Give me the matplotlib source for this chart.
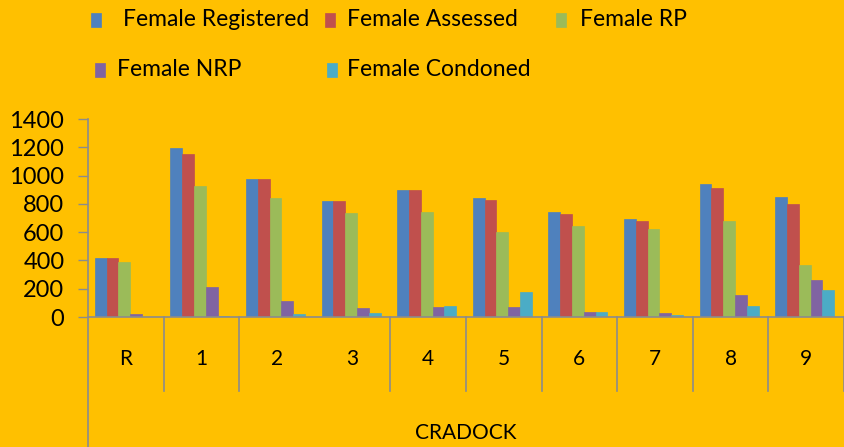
import matplotlib
matplotlib.use("Agg")
import matplotlib.pyplot as plt
from matplotlib.patches import Rectangle
from matplotlib.lines import Line2D
import numpy as np

categories = ["R", "1", "2", "3", "4", "5", "6", "7", "8", "9"]
group_label = "CRADOCK"
series_names = ["Female Registered", "Female Assessed", "Female RP", "Female NRP", "Female Condoned"]
female_registered = [415, 1195, 975, 820, 900, 840, 740, 690, 940, 845]
female_assessed = [415, 1155, 975, 820, 900, 830, 730, 680, 910, 800]
female_rp = [390, 925, 840, 735, 745, 600, 645, 625, 680, 365]
female_nrp = [20, 215, 115, 65, 70, 70, 35, 25, 155, 265]
female_condoned = [2, 10, 20, 25, 80, 175, 35, 15, 80, 190]
yticks = [0, 200, 400, 600, 800, 1000, 1200, 1400]

series = [female_registered, female_assessed, female_rp, female_nrp, female_condoned]
colors = ["#4F81BD", "#C0504D", "#9BBB59", "#8064A2", "#4BACC6"]
bg = "#FFC000"
axis_col = "#8C8C8C"
font = ["Lato", "DejaVu Sans"]

W, H = 844, 447
fig = plt.figure(figsize=(W / 100, H / 100), dpi=100, facecolor=bg)
ax = fig.add_axes([88 / W, (H - 317) / H, (844 - 88) / W, 198 / H])
ax.set_facecolor(bg)

x = np.arange(len(categories))
bw = 0.156
for i, (vals, c) in enumerate(zip(series, colors)):
    ax.bar(x + (i - 2) * bw - 0.02, vals, width=bw, color=c, edgecolor=c, linewidth=0.5, zorder=2)

ax.set_xlim(-0.5, len(categories) - 0.5)
ax.set_ylim(0, 1400)
ax.set_yticks(yticks)
ax.set_yticklabels([str(t) for t in yticks], fontfamily=font, fontsize=17)
ax.tick_params(axis="y", direction="out", length=7, width=1, color=axis_col, pad=10)
ax.set_xticks([])
for s in ["top", "right", "left"]:
    ax.spines[s].set_visible(False)
ax.spines["bottom"].set_color(axis_col)
ax.spines["bottom"].set_linewidth(1.2)

# y axis line extending down through the category area
ax.add_line(Line2D([0, 0], [1, -130 / 198], transform=ax.transAxes, color=axis_col, lw=1.2, clip_on=False))
# category separator lines
trans = ax.get_xaxis_transform()
for b in np.arange(len(categories) - 1) + 0.5:
    if abs(b - 2.5) < 1e-6:
        continue
    ax.add_line(Line2D([b, b], [0, -74 / 198], transform=trans, color=axis_col, lw=1.2, clip_on=False))
ax.add_line(Line2D([len(categories) - 0.5] * 2, [0, -74 / 198], transform=trans, color=axis_col, lw=1.2, clip_on=False))

for xi, lab in zip(x, categories):
    ax.text(xi, -42 / 198, lab, transform=trans, ha="center", va="center", fontfamily=font, fontsize=15)
ax.text(0.5, -116 / 198, group_label, transform=ax.transAxes, ha="center", va="center", fontfamily=font, fontsize=15)

# manual legend (two rows, Excel-style wrap)
leg_pos = [(91, 123, 20), (325, 347, 20), (556, 580, 20), (95, 117, 70), (327, 347, 70)]
for (mx, tx, ty), name, c in zip(leg_pos, series_names, colors):
    fig.patches.append(Rectangle((mx / W, (H - ty - 7) / H), 10 / W, 14 / H, transform=fig.transFigure,
                                 facecolor=c, edgecolor=c, lw=0.5))
    fig.text(tx / W, (H - ty) / H, name, ha="left", va="center", fontfamily=font, fontsize=16.5)

fig.savefig("out.png", dpi=100, facecolor=bg)
